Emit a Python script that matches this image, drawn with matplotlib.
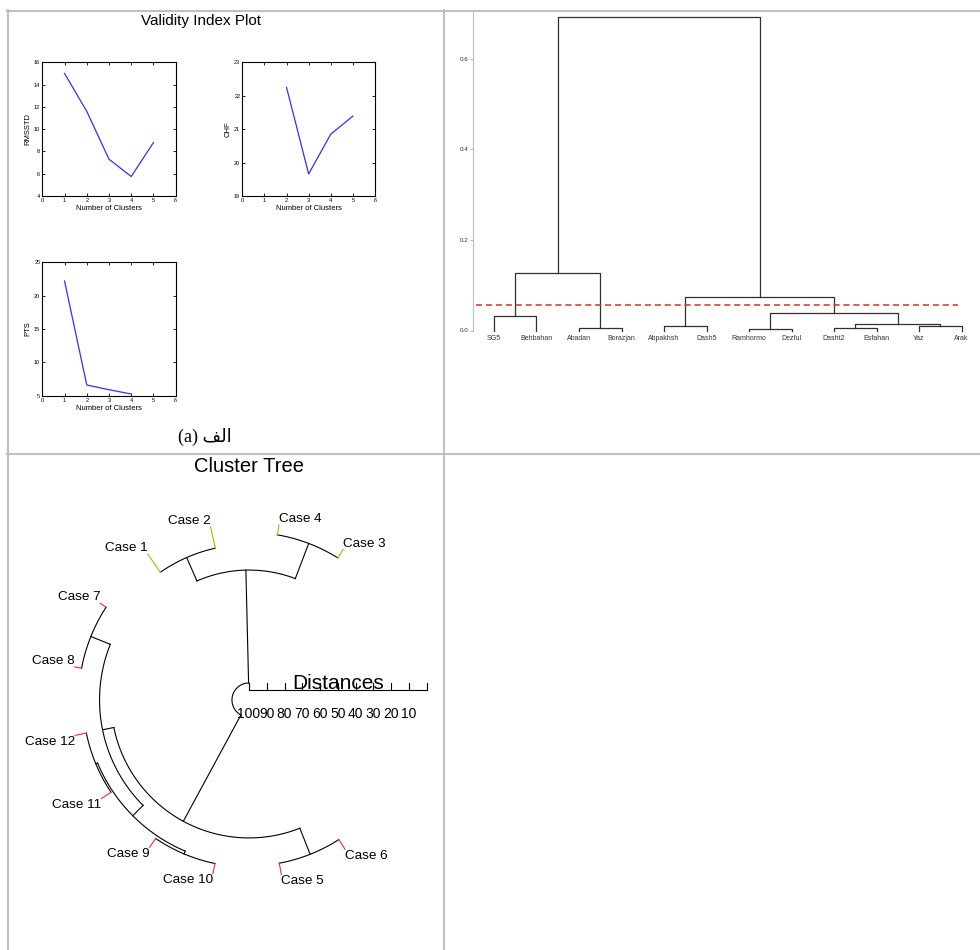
import numpy as np
import matplotlib.pyplot as plt

plt.rcParams['font.family'] = ['Liberation Sans', 'DejaVu Sans']

W, H = 980, 950

# (a) validity index plot
k_rmsstd = [1, 2, 3, 4, 5]
rmsstd = [15.0, 11.6, 7.3, 5.75, 8.8]
k_chf = [2, 3, 4, 5]
chf = [22.25, 19.66, 20.85, 21.39]
k_pts = [1, 2, 3, 4]
pts = [22.2, 6.6, 5.9, 5.25]

# dendrogram of the stations
stations = ['SG5', 'Behbahan', 'Abadan', 'Borazjan', 'Abpakhsh', 'Dash5',
            'Ramhormo', 'Dezful', 'Dasht2', 'Esfahan', 'Yaz', 'Arak']
# (left, right, height), every merge makes a new node 12, 13, ...
station_links = [(0, 1, 0.032), (2, 3, 0.006), (12, 13, 0.127),
                 (4, 5, 0.010), (6, 7, 0.003), (8, 9, 0.005), (10, 11, 0.011),
                 (17, 18, 0.014), (16, 19, 0.038), (15, 20, 0.074),
                 (14, 21, 0.692)]
cut_height = 0.056

# cluster tree (radial), leaves in drawing order
cases = ['Case 3', 'Case 4', 'Case 2', 'Case 1', 'Case 7', 'Case 8',
         'Case 12', 'Case 11', 'Case 9', 'Case 10', 'Case 5', 'Case 6']
case_cluster = [0, 0, 0, 0, 1, 1, 1, 1, 1, 1, 1, 1]
case_links = [(0, 1, 5.6), (2, 3, 12.4), (12, 13, 26.8), (4, 5, 4.0),
              (6, 7, 6.5), (8, 9, 5.9), (16, 17, 7.6), (15, 18, 15.8),
              (10, 11, 6.5), (19, 20, 22.3), (14, 21, 90.4)]

# matplotlib does no arabic shaping, so feed it presentation forms in visual order
AR_FORMS = {'ا': '\ufe8d', 'ل': '\ufedf', 'ف': '\ufed2'}
caption_ar = 'الف'


def px_axes(fig, x0, y0, x1, y1):
    return fig.add_axes([x0 / W, 1 - y1 / H, (x1 - x0) / W, (y1 - y0) / H])


def matlab_axes(ax, ylim, yticks, ylabel):
    ax.set_xlim(0, 6)
    ax.set_ylim(*ylim)
    ax.set_xticks(range(7))
    ax.set_yticks(yticks)
    ax.tick_params(direction='in', length=2.5, width=0.6, labelsize=4,
                   top=True, right=True, pad=1.5)
    for s in ax.spines.values():
        s.set_linewidth(0.8)
    ax.set_xlabel('Number of Clusters', fontsize=5.5, labelpad=1.5)
    ax.set_ylabel(ylabel, fontsize=5.5, labelpad=2)


fig = plt.figure(figsize=(W / 100, H / 100), dpi=100)

# background: table borders and titles, in pixel units
bg = fig.add_axes([0, 0, 1, 1])
bg.set_xlim(0, W)
bg.set_ylim(H, 0)
bg.axis('off')
grid_c = '#c0c0c0'
bg.plot([7, W], [10.5, 10.5], color=grid_c, lw=1.5)
bg.plot([7, W], [453.5, 453.5], color=grid_c, lw=1.5)
bg.plot([8, 8], [10, H], color=grid_c, lw=1.5)
bg.plot([443.5, 443.5], [10, H], color=grid_c, lw=1.5)
bg.text(200.5, 21, 'Validity Index Plot', fontsize=11, ha='center', va='center')
shaped = ''.join(AR_FORMS[c] for c in reversed(caption_ar))
bg.text(205, 437, '(a) ' + shaped, fontsize=13, ha='center', va='center',
        family=['Liberation Serif', 'DejaVu Sans'])
bg.text(249, 467, 'Cluster Tree', fontsize=14.5, ha='center', va='center')

# validity plots
line_c = '#3030ff'
ax1 = px_axes(fig, 42.3, 62.3, 175.7, 196)
ax1.plot(k_rmsstd, rmsstd, color=line_c, lw=0.9)
matlab_axes(ax1, (4, 16), range(4, 17, 2), 'RMSSTD')

ax2 = px_axes(fig, 242.3, 62.3, 375, 196)
ax2.plot(k_chf, chf, color=line_c, lw=0.9)
matlab_axes(ax2, (19, 23), range(19, 24), 'CHF')

ax3 = px_axes(fig, 42.3, 262.3, 175.7, 395.7)
ax3.plot(k_pts, pts, color=line_c, lw=0.9)
matlab_axes(ax3, (5, 25), range(5, 26, 5), 'PTS')

# dendrogram
axd = px_axes(fig, 473, 11, W, 330.5)
axd.patch.set_alpha(0)
n = len(stations)
xpos = {i: float(i) for i in range(n)}
hgt = {i: 0.0 for i in range(n)}
for k, (a, b, h) in enumerate(station_links):
    axd.plot([xpos[a], xpos[a], xpos[b], xpos[b]], [hgt[a], h, h, hgt[b]],
             color='#303030', lw=0.9, clip_on=False)
    xpos[n + k] = (xpos[a] + xpos[b]) / 2
    hgt[n + k] = h
axd.axhline(cut_height, xmin=0.005, xmax=0.957, color='#cc3030', lw=1.1,
            dashes=(4, 2.5))
axd.set_xlim(-0.494, 11.435)
axd.set_ylim(0, 0.705)
axd.set_xticks(range(n))
axd.set_xticklabels(stations, fontsize=5, color='#333333')
axd.set_yticks([0, 0.2, 0.4, 0.6])
axd.set_yticklabels(['0.0', '0.2', '0.4', '0.6'], fontsize=4.5, color='#333333')
axd.tick_params(axis='x', length=0, pad=3.5)
axd.tick_params(axis='y', length=2, width=0.5, color='#999999', pad=1)
for side in ['top', 'right', 'bottom']:
    axd.spines[side].set_visible(False)
axd.spines['left'].set_color('#b8c4c4')
axd.spines['left'].set_linewidth(0.8)

# radial cluster tree, radius = 100 - distance
s = 1.775
cx, cy = 249, 700
axt = px_axes(fig, 9, 455, 443, H)
axt.patch.set_alpha(0)
axt.set_xlim((9 - cx) / s, (443 - cx) / s)
axt.set_ylim((cy - H) / s, (cy - 455) / s)
axt.axis('off')

leaf_colors = ['#80d000', '#ff2a2a']
m = len(cases)
ang = {i: 58 + 22.25 * i for i in range(m)}
dist = {i: 0.0 for i in range(m)}
for k, (a, b, d) in enumerate(case_links):
    r = 100 - d
    t = np.radians(np.linspace(ang[a], ang[b], 80))
    axt.plot(r * np.cos(t), r * np.sin(t), color='black', lw=0.8)
    for c in (a, b):
        tc = np.radians(ang[c])
        rc = 100 - dist[c]
        col = leaf_colors[case_cluster[c]] if c < m else 'black'
        axt.plot([r * np.cos(tc), rc * np.cos(tc)], [r * np.sin(tc), rc * np.sin(tc)],
                 color=col, lw=0.8)
    ang[m + k] = (ang[a] + ang[b]) / 2
    dist[m + k] = d

for i, name in enumerate(cases):
    t = np.radians(ang[i])
    x, y = 100 * np.cos(t), 100 * np.sin(t)
    ha = 'right' if np.cos(t) < 0 else 'left'
    if np.sin(t) > 0:
        axt.text(x, y + 1.6, name, fontsize=9.7, ha=ha, va='baseline')
    else:
        axt.text(x, y - 0.3, name, fontsize=9.7, ha=ha, va='top')

# distance scale
y0 = (cy - 690) / s
ticks = np.arange(0, 101, 10)
axt.plot([0, 100], [y0, y0], color='black', lw=0.8)
for tx in ticks:
    axt.plot([tx, tx], [y0, y0 + 7 / s], color='black', lw=0.8)
for tx in ticks[:-1]:
    axt.text(tx, (cy - 714) / s, str(100 - tx), fontsize=10, ha='center', va='center')
axt.text(50, (cy - 689) / s, 'Distances', fontsize=15, ha='center', va='baseline')

fig.savefig('out.png', dpi=100)
